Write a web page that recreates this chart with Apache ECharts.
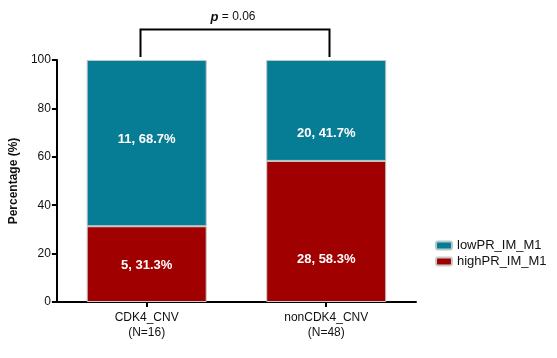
<!DOCTYPE html>
<html><head><meta charset="utf-8">
<script src="https://cdn.jsdelivr.net/npm/echarts@6/dist/echarts.min.js"></script>
<style>html,body{margin:0;padding:0;background:#fff}#c{width:557px;height:358px}</style>
</head><body><div id="c"></div>
<script>
var categories = ['CDK4_CNV\n(N=16)', 'nonCDK4_CNV\n(N=48)'];
var highPct = [31.3, 58.3];
var lowPct = [68.7, 41.7];
var highN = [5, 28];
var lowN = [11, 20];
var yTicks = [0, 20, 40, 60, 80, 100];
var pText = '0.06';

// label vertical offsets (px) to match the reference placement
var highLabelOffset = [1, 28];
var lowLabelOffset = [-4, 23];

var chart = echarts.init(document.getElementById('c'), null, {renderer: 'canvas'});
var font = 'Liberation Sans, Arial, sans-serif';
function lbl(nArr) {
  return function (p) { return nArr[p.dataIndex] + ', ' + p.value.toFixed(1) + '%'; };
}
function items(vals, offs) {
  return vals.map(function (v, i) { return {value: v, label: {offset: [0, offs[i]]}}; });
}
chart.setOption({
  animation: false,
  textStyle: {fontFamily: font},
  grid: {left: 55, right: 141, top: 60, bottom: 56, containLabel: false},
  legend: {
    orient: 'vertical', left: 430, top: 234, itemWidth: 16, itemHeight: 8, itemGap: 3,
    textStyle: {fontFamily: font, fontSize: 13, color: '#111'},
    data: ['lowPR_IM_M1', 'highPR_IM_M1']
  },
  xAxis: {
    type: 'category', data: categories,
    axisLine: {lineStyle: {color: '#000', width: 2}},
    axisTick: {show: true, alignWithLabel: true, length: 5, lineStyle: {color: '#000', width: 2}},
    axisLabel: {color: '#111', fontSize: 12, lineHeight: 15, margin: 8, fontFamily: font}
  },
  yAxis: {
    type: 'value', min: yTicks[0], max: yTicks[yTicks.length - 1], interval: 20,
    name: 'Percentage (%)', nameLocation: 'middle', nameGap: 36,
    nameTextStyle: {fontWeight: 'bold', fontSize: 12, color: '#111', fontFamily: font},
    splitLine: {show: false},
    axisLine: {show: true, lineStyle: {color: '#000', width: 2}},
    axisTick: {show: true, length: 5, lineStyle: {color: '#000', width: 2}},
    axisLabel: {color: '#111', fontSize: 12, margin: 6, fontFamily: font}
  },
  series: [
    {
      name: 'highPR_IM_M1', type: 'bar', stack: 's', data: items(highPct, highLabelOffset), barWidth: 120,
      itemStyle: {color: '#A10000', borderColor: '#c9c9c9', borderWidth: 1},
      label: {show: true, position: 'inside', color: '#fff', fontWeight: 'bold', fontSize: 13, formatter: lbl(highN)}
    },
    {
      name: 'lowPR_IM_M1', type: 'bar', stack: 's', data: items(lowPct, lowLabelOffset), barWidth: 120,
      itemStyle: {color: '#077D95', borderColor: '#b8c8cc', borderWidth: 1},
      label: {show: true, position: 'inside', color: '#fff', fontWeight: 'bold', fontSize: 13, formatter: lbl(lowN)}
    }
  ]
});

// significance bracket, placed in data coordinates
var p0 = chart.convertToPixel({gridIndex: 0}, [0, 100]);
var p1 = chart.convertToPixel({gridIndex: 0}, [1, 100]);
var xa = Math.round(p0[0] - 7) + 0.5, xb = Math.round(p1[0] + 3) + 0.5;
var yTop = 29.5, yBot = p0[1] - 3;
chart.setOption({
  graphic: [
    {type: 'polyline', shape: {points: [[xa, yBot], [xa, yTop], [xb, yTop], [xb, yBot]]},
     style: {stroke: '#000', lineWidth: 2, fill: null}},
    {type: 'text', x: (xa + xb) / 2 - 2, y: 17,
     style: {text: '{i|p} = ' + pText, align: 'center', verticalAlign: 'middle',
       fontFamily: font, fontSize: 12, fill: '#111',
       rich: {i: {fontStyle: 'italic', fontWeight: 'bold', fontSize: 13, fontFamily: font, fill: '#111'}}}}
  ]
});
</script></body></html>
